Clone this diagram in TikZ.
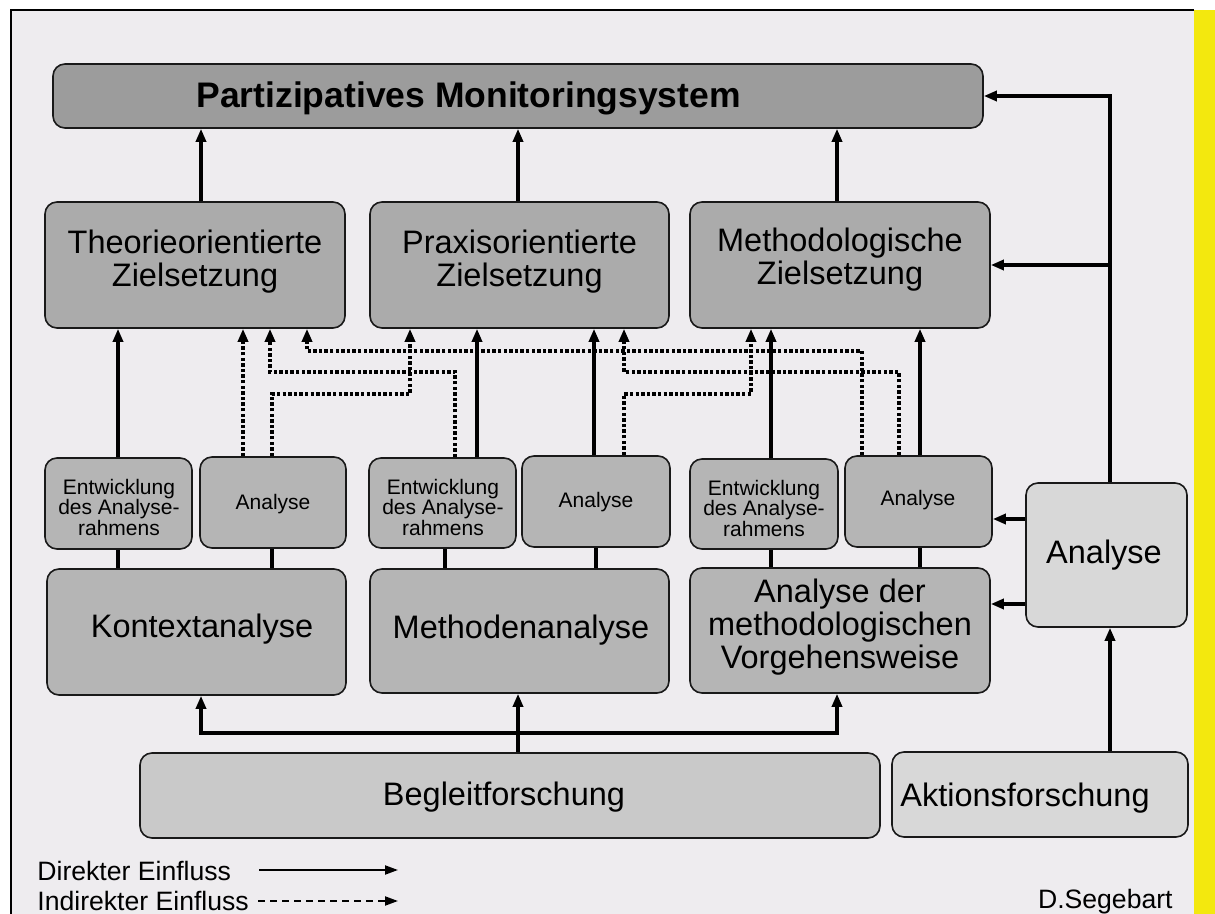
\documentclass[tikz,border=0pt]{standalone}
\usepackage{fontspec}
\setmainfont{Liberation Sans}
\usetikzlibrary{arrows.meta,fit}

\definecolor{sheet}{RGB}{238,236,239}
\definecolor{stripe}{RGB}{243,232,14}
\definecolor{fillTop}{RGB}{156,156,156}
\definecolor{fillGoal}{RGB}{171,171,171}
\definecolor{fillSub}{RGB}{181,181,181}
\definecolor{fillMid}{RGB}{181,181,181}
\definecolor{fillBase}{RGB}{201,201,201}
\definecolor{fillLight}{RGB}{216,216,216}

\begin{document}
\begin{tikzpicture}[x=0.5pt, y=-0.5pt,
  panel/.style={draw=black!90, line width=0.8pt, rounded corners=6pt, inner sep=0pt},
  bigfont/.style={font=\fontsize{16.25}{16.5}\selectfont, align=center},
  smallfont/.style={font=\fontsize{10.5}{10.25}\selectfont, align=center},
  legendfont/.style={font=\fontsize{13.3}{15}\selectfont, inner sep=0pt},
  arrowtip/.style={-{Triangle[length=6.5pt,width=5pt]}},
  direct/.style={line width=1.6pt, arrowtip},
  indirect/.style={line width=1.7pt, dash pattern=on 1.7pt off 1.1pt, arrowtip},
  link/.style={line width=1.6pt},
  legendarrow/.style={line width=1pt, -{Triangle[length=6.5pt,width=4.5pt]}},
]
\useasboundingbox (0,0) rectangle (1215,914);

% sheet, frame and side stripe
\fill[white] (0,0) rectangle (1215,914);
\fill[sheet] (11,10) rectangle (1194,914);
\fill[stripe] (1194,10) rectangle (1215,914);
\draw[line width=0.6pt] (11,914) -- (11,10) -- (1194,10);

% top level
\node[panel, fill=fillTop, fit={(53,64) (983,128)}] (top) {};
\node[anchor=west, inner sep=0pt, font=\bfseries\fontsize{17.75}{20}\selectfont]
  (title) at (196,98) {Partizipatives Monitoringsystem};

% goal boxes
\node[panel, fill=fillGoal, fit={(45,202) (345,328)}] (goalT) {};
\node[bigfont] (goalTtext) at ([yshift=1.5pt]goalT.center) {Theorieorientierte\\Zielsetzung};
\node[panel, fill=fillGoal, fit={(370,202) (669,328)}] (goalP) {};
\node[bigfont] (goalPtext) at ([yshift=1.5pt]goalP.center) {Praxisorientierte\\Zielsetzung};
\node[panel, fill=fillGoal, fit={(690,202) (990,328)}] (goalM) {};
\node[bigfont] (goalMtext) at ([yshift=2.5pt]goalM.center) {Methodologische\\Zielsetzung};

% small boxes
\node[panel, fill=fillSub, fit={(45,458) (192,549)}] (devK) {};
\node[smallfont] (devKtext) at (119,507) {Entwicklung\\des Analyse-\\rahmens};
\node[panel, fill=fillSub, fit={(200,457) (346,548)}] (anaK) {};
\node[smallfont] (anaKtext) at (273,504) {Analyse};
\node[panel, fill=fillSub, fit={(369,458) (516,548)}] (devM) {};
\node[smallfont] (devMtext) at (443,507) {Entwicklung\\des Analyse-\\rahmens};
\node[panel, fill=fillSub, fit={(522,456) (670,547)}] (anaM) {};
\node[smallfont] (anaMtext) at (596,502) {Analyse};
\node[panel, fill=fillSub, fit={(690,459) (838,549)}] (devV) {};
\node[smallfont] (devVtext) at (764,508) {Entwicklung\\des Analyse-\\rahmens};
\node[panel, fill=fillSub, fit={(845,456) (992,547)}] (anaV) {};
\node[smallfont] (anaVtext) at (918,500) {Analyse};

% analysis boxes
\node[panel, fill=fillMid, fit={(47,569) (346,695)}] (kontext) {};
\node[bigfont] (kontextText) at (202,629) {Kontextanalyse};
\node[panel, fill=fillMid, fit={(370,569) (669,693)}] (methoden) {};
\node[bigfont] (methodenText) at (521,630) {Methodenanalyse};
\node[panel, fill=fillMid, fit={(690,568) (990,693)}] (vorgehen) {};
\node[bigfont] (vorgehenText) at (840,627) {Analyse der\\methodologischen\\Vorgehensweise};

% research boxes
\node[panel, fill=fillBase, fit={(140,753) (880,838)}] (begleit) {};
\node[bigfont] (begleitText) at (504,797) {Begleitforschung};
\node[panel, fill=fillLight, fit={(892,752) (1188,837)}] (aktion) {};
\node[bigfont] (aktionText) at (1025,798) {Aktionsforschung};
\node[panel, fill=fillLight, fit={(1026,483) (1187,627)}] (analyseR) {};
\node[bigfont] (analyseRtext) at (1104,555) {Analyse};

% connector columns and rows
\coordinate (x118) at (118,0);
\coordinate (x201) at (201,0);
\coordinate (x243) at (243,0);
\coordinate (x270) at (270,0);
\coordinate (x272) at (272,0);
\coordinate (x307) at (307,0);
\coordinate (x410) at (410,0);
\coordinate (x445) at (445,0);
\coordinate (x455) at (455,0);
\coordinate (x477) at (477,0);
\coordinate (x518) at (518,0);
\coordinate (x594) at (594,0);
\coordinate (x596) at (596,0);
\coordinate (x624) at (624,0);
\coordinate (x751) at (751,0);
\coordinate (x771) at (771,0);
\coordinate (x837) at (837,0);
\coordinate (x862) at (862,0);
\coordinate (x899) at (899,0);
\coordinate (x920) at (920,0);
\coordinate (x1110) at (1110,0);
\coordinate (y351) at (0,351);
\coordinate (y372) at (0,372);
\coordinate (y394) at (0,394);
\coordinate (y519) at (0,519);
\coordinate (y604) at (0,604);
\coordinate (y733) at (0,733);

% goals into the monitoring system
\draw[direct] (goalT.north -| x201) -- (top.south -| x201);
\draw[direct] (goalP.north -| x518) -- (top.south -| x518);
\draw[direct] (goalM.north -| x837) -- (top.south -| x837);

% action research trunk on the right
\draw[direct] (aktion.north -| x1110) -- (analyseR.south -| x1110);
\draw[direct] (analyseR.north -| x1110) |- (top.east);
\draw[direct] (x1110 |- goalM.east) -- (goalM.east);
\draw[direct] (analyseR.west |- y519) -- (anaV.east |- y519);
\draw[direct] (analyseR.west |- y604) -- (vorgehen.east |- y604);

% accompanying research bus
\draw[direct] (begleit.north -| x518) -- (methoden.south -| x518);
\draw[direct] (x518 |- y733) -| (kontext.south -| x201);
\draw[direct] (x518 |- y733) -| (vorgehen.south -| x837);

% small boxes sitting on the analysis boxes
\draw[link] (devK.south -| x118) -- (kontext.north -| x118);
\draw[link] (anaK.south -| x272) -- (kontext.north -| x272);
\draw[link] (devM.south -| x445) -- (methoden.north -| x445);
\draw[link] (anaM.south -| x596) -- (methoden.north -| x596);
\draw[link] (devV.south -| x771) -- (vorgehen.north -| x771);
\draw[link] (anaV.south -| x920) -- (vorgehen.north -| x920);

% direct influence on the goals
\draw[direct] (devK.north -| x118) -- (goalT.south -| x118);
\draw[direct] (devM.north -| x477) -- (goalP.south -| x477);
\draw[direct] (anaM.north -| x594) -- (goalP.south -| x594);
\draw[direct] (devV.north -| x771) -- (goalM.south -| x771);
\draw[direct] (anaV.north -| x920) -- (goalM.south -| x920);

% indirect influence on the goals
\draw[indirect] (anaK.north -| x243) -- (goalT.south -| x243);
\draw[indirect] (devM.north -| x455) -- (x455 |- y372) -- (x270 |- y372) -- (goalT.south -| x270);
\draw[indirect] (anaV.north -| x862) -- (x862 |- y351) -- (x307 |- y351) -- (goalT.south -| x307);
\draw[indirect] (anaK.north -| x272) -- (x272 |- y394) -- (x410 |- y394) -- (goalP.south -| x410);
\draw[indirect] (anaV.north -| x899) -- (x899 |- y372) -- (x624 |- y372) -- (goalP.south -| x624);
\draw[indirect] (anaM.north -| x624) -- (x624 |- y394) -- (x751 |- y394) -- (goalM.south -| x751);

% legend
\node[legendfont, anchor=west] (legDirect) at (37,871) {Direkter Einfluss};
\coordinate (legDa) at (259,870);
\coordinate (legDb) at (398,870);
\draw[legendarrow] (legDa) -- (legDb);
\node[legendfont, anchor=west] (legIndirect) at (37,901) {Indirekter Einfluss};
\coordinate (legIa) at (258,901);
\coordinate (legIb) at (398,901);
\draw[legendarrow, dash pattern=on 3.5pt off 2.5pt] (legIa) -- (legIb);
\node[legendfont, anchor=east] (author) at (1173,902) {D.Segebart};
\end{tikzpicture}
\end{document}
